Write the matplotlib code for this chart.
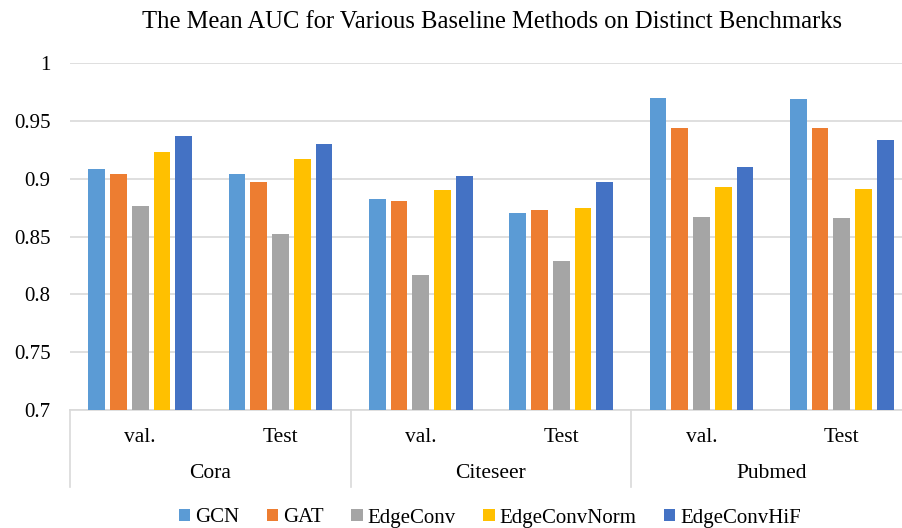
import matplotlib
matplotlib.use("Agg")
import matplotlib.pyplot as plt
from matplotlib.patches import Patch

plt.rcParams['font.family'] = ['Liberation Serif', 'DejaVu Serif']

datasets = ["Cora", "Citeseer", "Pubmed"]
splits = ["val.", "Test", "val.", "Test", "val.", "Test"]
methods = ["GCN", "GAT", "EdgeConv", "EdgeConvNorm", "EdgeConvHiF"]
gcn = [0.908, 0.904, 0.882, 0.870, 0.970, 0.969]
gat = [0.904, 0.897, 0.881, 0.873, 0.944, 0.944]
edgeconv = [0.876, 0.852, 0.817, 0.829, 0.867, 0.866]
edgeconvnorm = [0.923, 0.917, 0.890, 0.875, 0.893, 0.891]
edgeconvhif = [0.937, 0.930, 0.902, 0.897, 0.910, 0.933]
yticks = [0.7, 0.75, 0.8, 0.85, 0.9, 0.95, 1.0]
ytick_labels = ["0.7", "0.75", "0.8", "0.85", "0.9", "0.95", "1"]
title = "The Mean AUC for Various Baseline Methods on Distinct Benchmarks"

series = [gcn, gat, edgeconv, edgeconvnorm, edgeconvhif]
colors = ["#5B9BD5", "#ED7D31", "#A5A5A5", "#FFC000", "#4472C4"]

W, H = 902, 528
fig = plt.figure(figsize=(W / 100, H / 100), dpi=100)
left, right, top, bottom = 70, 912, 63, 410
ax = fig.add_axes([left / W, 1 - bottom / H, (right - left) / W, (bottom - top) / H])

x = list(range(len(splits)))
step = 0.155
width = 0.119
for i, (vals, c) in enumerate(zip(series, colors)):
    ax.bar([xi + (i - 2) * step for xi in x], [v - 0.7 for v in vals], bottom=0.7,
           width=width, color=c, zorder=3)

ax.set_ylim(0.7, 1.0)
ax.set_xlim(-0.5, len(splits) - 0.5)
ax.set_yticks(yticks)
ax.set_yticklabels(ytick_labels)
ax.tick_params(axis='y', length=0, labelsize=15, colors='#000000', pad=14)
ax.set_xticks([])
for s in ['top', 'right', 'left']:
    ax.spines[s].set_visible(False)
ax.spines['bottom'].set_color('#D9D9D9')
ax.spines['bottom'].set_linewidth(1.2)
ax.yaxis.grid(True, color='#D9D9D9', linewidth=1.2, zorder=0)
ax.set_axisbelow(True)

trans = ax.get_xaxis_transform()
axh = bottom - top
sep_depth = (487 - bottom) / axh
for xs in [-0.5, 1.5, 3.5, 5.5]:
    ax.plot([xs, xs], [0, -sep_depth], transform=trans, color='#D9D9D9',
            linewidth=1.2, clip_on=False)
for xi, lab in zip(x, splits):
    ax.text(xi, -(437 - bottom) / axh, lab, transform=trans, ha='center', va='center',
            fontsize=15.5)
for k, ds in enumerate(datasets):
    ax.text(2 * k + 0.5, -(474 - bottom) / axh, ds, transform=trans, ha='center',
            va='center', fontsize=15.5)

fig.text(492 / W, 1 - 22 / H, title, ha='center', va='center', fontsize=17.7)

handles = [Patch(facecolor=c, label=m) for m, c in zip(methods, colors)]
fig.legend(handles=handles, loc='center', bbox_to_anchor=(490 / W, 1 - 518 / H), ncol=5,
           frameon=False, fontsize=15, handlelength=0.55, handleheight=0.55,
           handletextpad=0.25, columnspacing=1.3, borderpad=0)

fig.savefig("out.png", dpi=100)
